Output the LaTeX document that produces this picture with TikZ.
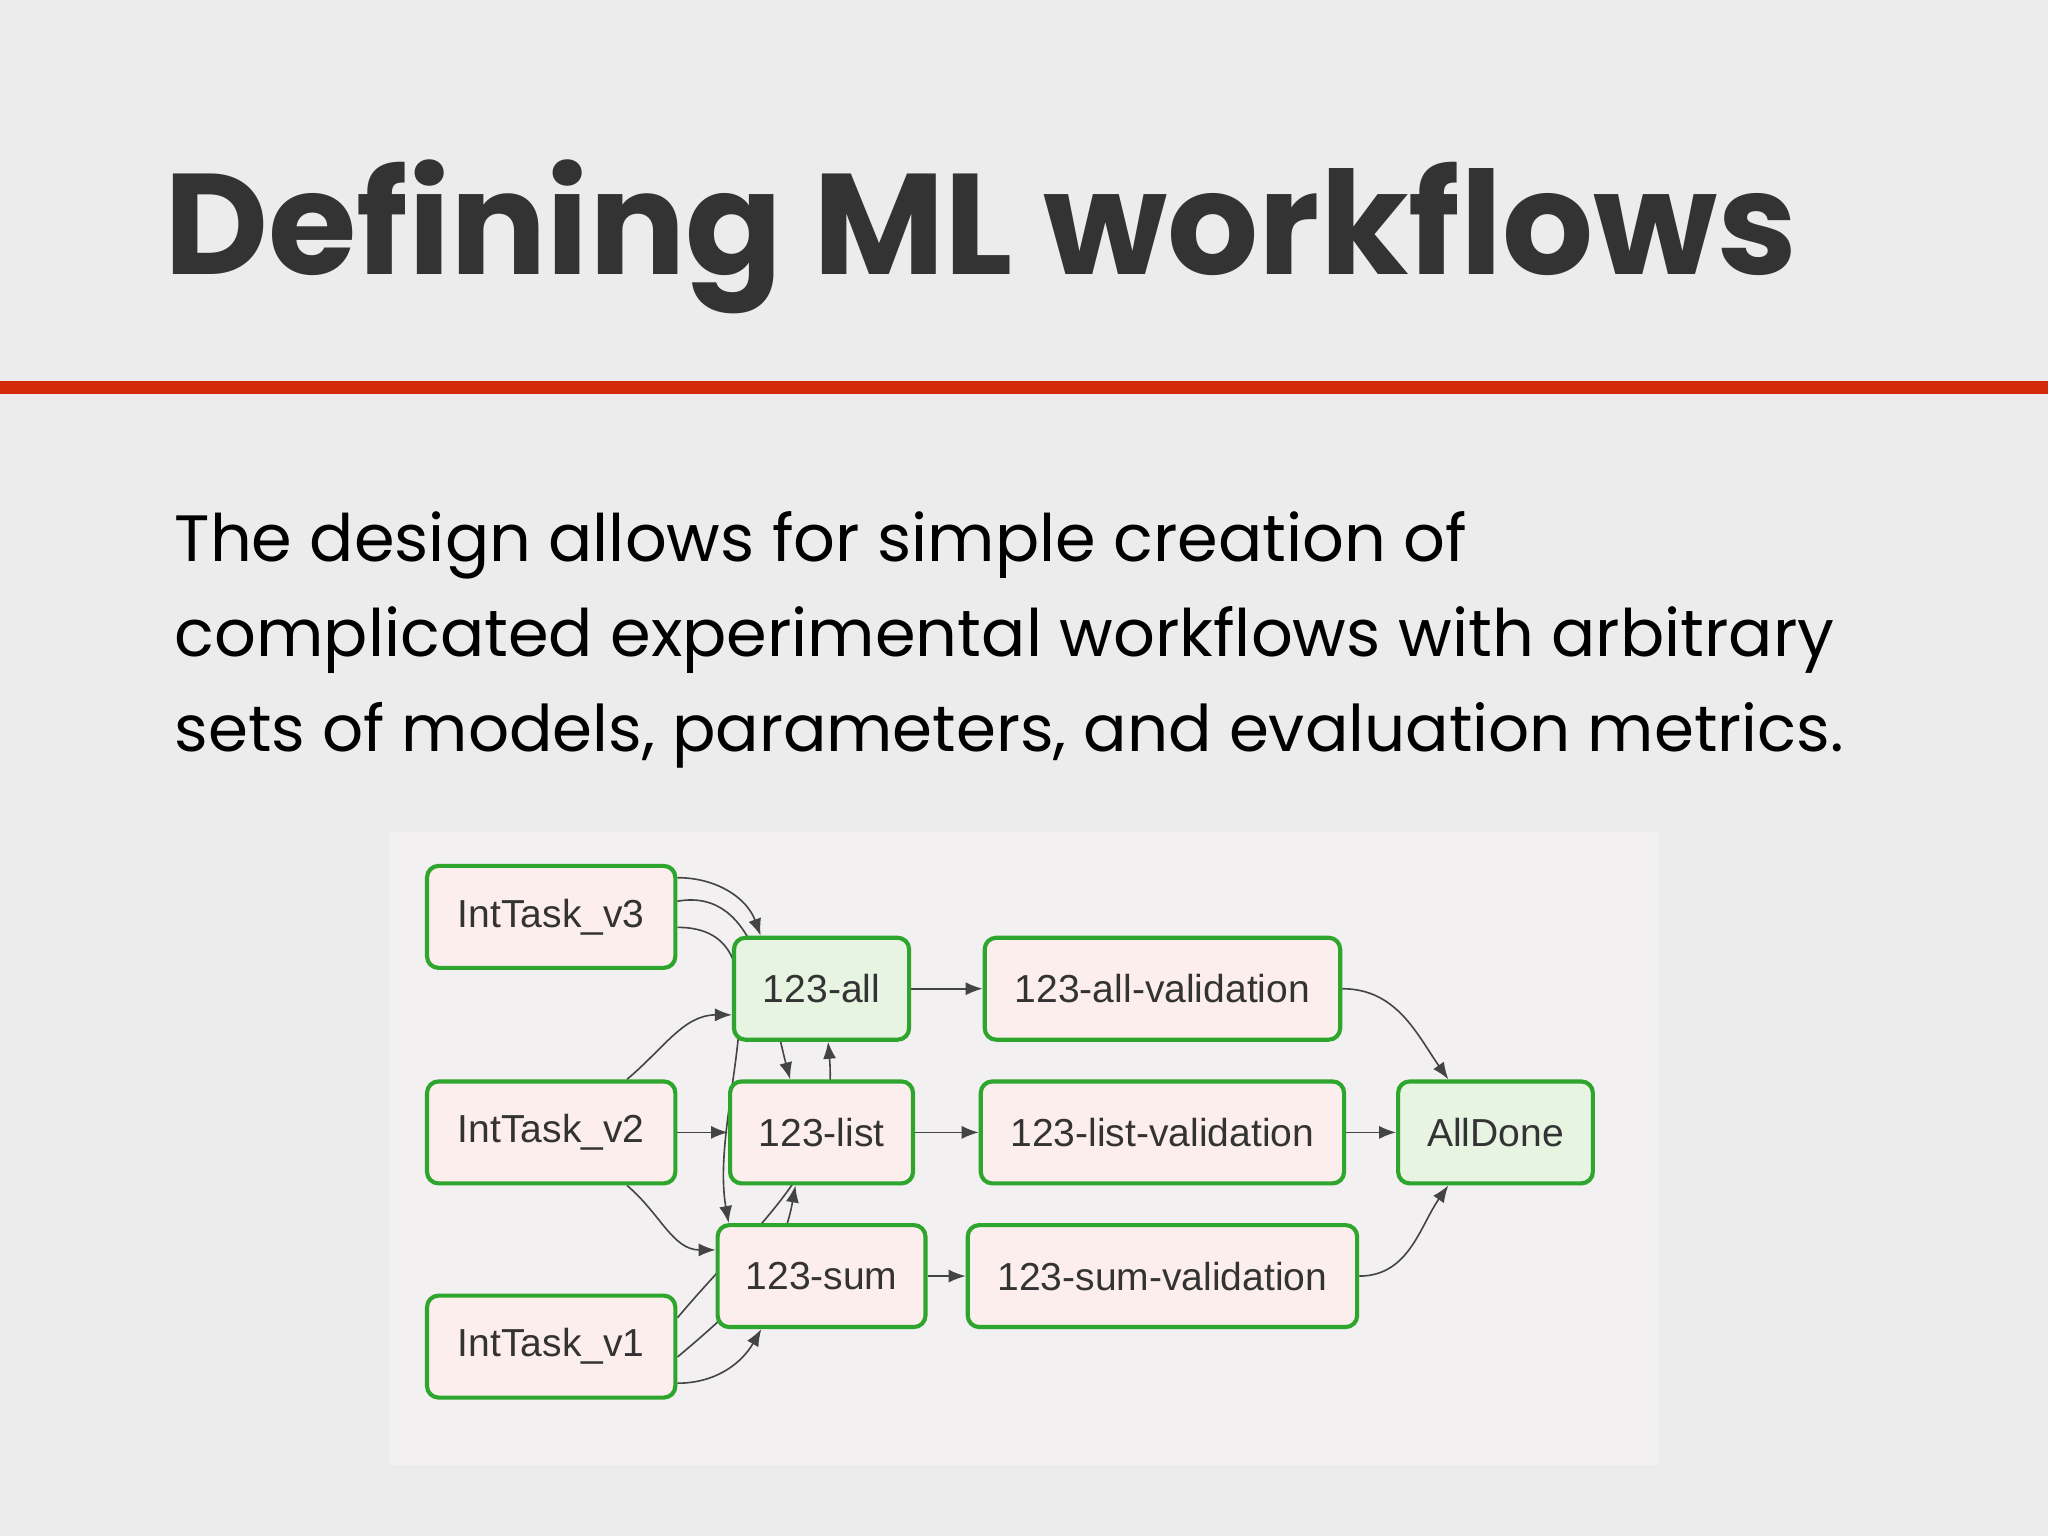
\documentclass[tikz,border=0pt]{standalone}
\usepackage{fontspec}
\setmainfont{Poppins}
\newfontfamily\arialf{Liberation Sans}
\usetikzlibrary{arrows.meta}
\pgfdeclarelayer{bglayer}
\pgfdeclarelayer{edgelayer}
\pgfsetlayers{bglayer,edgelayer,main}
\definecolor{bgc}{HTML}{EDECEC}
\definecolor{panel}{HTML}{F2F0F0}
\definecolor{redl}{HTML}{D42A0A}
\definecolor{gb}{HTML}{2EA62E}
\definecolor{pinkf}{HTML}{FCEEEC}
\definecolor{greenf}{HTML}{E6F4E1}
\definecolor{edgec}{HTML}{444444}
\tikzset{
 task/.style={draw=gb,line width=0.9pt,rounded corners=2.5pt,fill=pinkf,minimum height=0.78cm,font=\arialf\fontsize{8.5pt}{10pt}\selectfont,text=black!80,inner sep=0pt},
 gtask/.style={task,fill=greenf},
 edge/.style={draw=edgec,line width=0.35pt,-{Latex[length=1.3mm,width=1mm]}}
}
\begin{document}
\begin{tikzpicture}[x=0.01cm,y=-0.01cm]
\begin{pgfonlayer}{bglayer}
\fill[bgc] (0,0) rectangle (1568,1176);
\fill[panel] (298,637) rectangle (1270,1122);
\end{pgfonlayer}
\useasboundingbox (0,0) rectangle (1568,1176);
\fill[redl] (0,292) rectangle (1568,302);
\node[anchor=base west,inner sep=0,text=black!80] at (125,210) {\resizebox{12.5cm}{!}{\bfseries Defining ML workflows}};
\node[anchor=base west,inner sep=0] at (133,430) {\resizebox{9.89cm}{!}{The design allows for simple creation of}};
\node[anchor=base west,inner sep=0] at (133,503) {\resizebox{12.7cm}{!}{complicated experimental workflows with arbitrary}};
\node[anchor=base west,inner sep=0] at (133,575) {\resizebox{12.77cm}{!}{sets of models, parameters, and evaluation metrics.}};
\node[task,minimum width=1.9cm] (v3) at (422,702) {IntTask\_v3};
\node[task,minimum width=1.9cm] (v2) at (422,867) {IntTask\_v2};
\node[task,minimum width=1.9cm] (v1) at (422,1031) {IntTask\_v1};
\node[gtask,minimum width=1.34cm] (all) at (629,757) {123-all};
\node[task,minimum width=1.40cm] (list) at (629,867) {123-list};
\node[task,minimum width=1.59cm] (sum) at (629,977) {123-sum};
\node[task,minimum width=2.72cm] (allv) at (890,757) {123-all-validation};
\node[task,minimum width=2.78cm] (listv) at (890,867) {123-list-validation};
\node[task,minimum width=2.98cm] (sumv) at (890,977) {123-sum-validation};
\node[gtask,minimum width=1.49cm] (done) at (1145,867) {AllDone};
\begin{pgfonlayer}{edgelayer}
\draw[edge] ([yshift=0.3cm]v3.east) to[out=0,in=110] ([xshift=0.22cm]all.north west);
\draw[edge] ([yshift=0.12cm]v3.east) to[out=10,in=105] ([xshift=-0.24cm]list.north);
\draw[edge] ([yshift=-0.08cm]v3.east) to[out=0,in=100] ([xshift=0.1cm]sum.north west);
\draw[edge] ([xshift=0.58cm]v2.north) to[out=40,in=180] ([yshift=-0.2cm]all.west);
\draw[edge] (v2.east) -- (list.west);
\draw[edge] ([xshift=0.58cm]v2.south) to[out=-40,in=180] ([yshift=0.2cm]sum.west);
\draw[edge] ([yshift=0.22cm]v1.east) to[out=50,in=-85] ([xshift=0.05cm]all.south);
\draw[edge] ([yshift=-0.08cm]v1.east) to[out=40,in=-100] ([xshift=-0.2cm]list.south);
\draw[edge] ([yshift=-0.28cm]v1.east) to[out=0,in=-120] ([xshift=0.35cm]sum.south west);
\draw[edge] (all) -- (allv);
\draw[edge] (list) -- (listv);
\draw[edge] (sum) -- (sumv);
\draw[edge] (listv) -- (done);
\draw[edge] (allv.east) to[out=0,in=125] ([xshift=0.4cm]done.north west);
\draw[edge] (sumv.east) to[out=0,in=-125] ([xshift=0.4cm]done.south west);
\end{pgfonlayer}
\end{tikzpicture}
\end{document}
